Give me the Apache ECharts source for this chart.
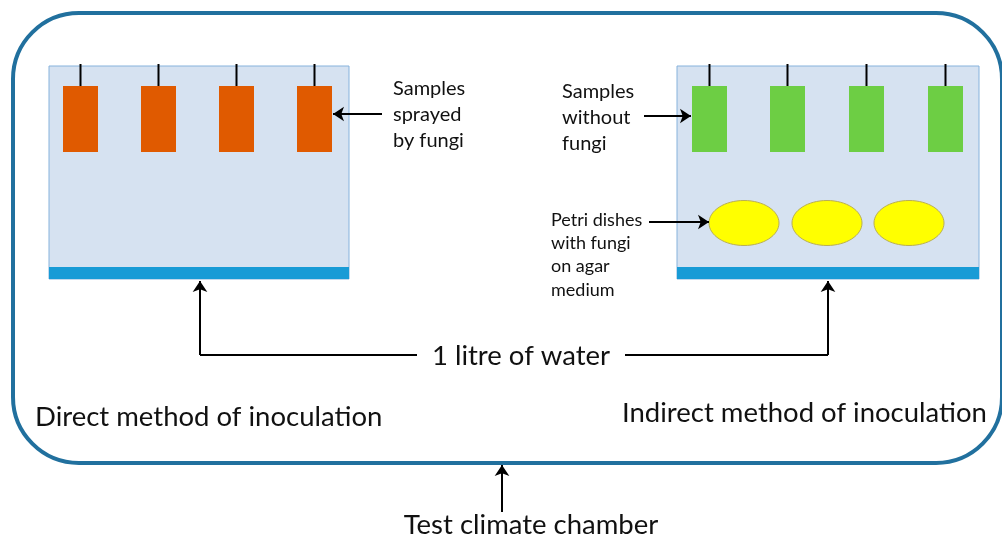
<!DOCTYPE html>
<html>
<head>
<meta charset="utf-8">
<title>Inoculation methods</title>
<script src="https://cdn.jsdelivr.net/npm/echarts@6/dist/echarts.min.js"></script>
<style>
  html, body { margin: 0; padding: 0; background: #fff; }
  #main { width: 1002px; height: 540px; }
</style>
</head>
<body>
<div id="main"></div>
<script>
// diagram data, in picture units (x right, y down)
const chamber = [[13, 13, 1002, 463]];
const tanks = [[49, 66, 349, 279, 267], [677, 66, 979, 279, 267]];
const sprayedSamples = [80.5, 158.5, 236.5, 314.5];
const cleanSamples = [709.5, 787.5, 866.5, 945.5];
const sampleSpan = [86, 152];
const hookTop = 64;
const petriDishes = [744, 827, 909];
const petriRow = 223;

const plainLines = [
    [[417, 355], [200, 355]],
    [[625, 355], [828, 355]]
];
const arrowLines = [
    [[382, 114], [333, 114]],
    [[644, 116], [691, 116]],
    [[649, 222], [709, 222]],
    [[200, 355], [200, 281]],
    [[828, 355], [828, 281]],
    [[502, 512], [502, 465]]
];

const smallLabels = ['Samples\nsprayed\nby fungi', 'Samples\nwithout\nfungi'];
const smallLabelPos = [[393, 114.5], [562, 118]];
const petriLabel = ['Petri dishes\nwith fungi\non agar\nmedium'];
const petriLabelPos = [[551, 255]];
const bigLabels = ['1 litre of water', 'Direct method of inoculation', 'Indirect method of inoculation', 'Test climate chamber'];
const bigLabelPos = [[521, 356], [35, 417], [622, 413], [531, 525]];
const bigLabelAlign = ['center', 'left', 'left', 'center'];

const FONT = 'Lato, "Open Sans", sans-serif';

var chart = echarts.init(document.getElementById('main'));

function pt(api, x, y) {
    return api.coord([x, y]);
}

var option = {
    animation: false,
    grid: { left: 0, right: 0, top: 0, bottom: 0 },
    xAxis: { type: 'value', min: 0, max: 1002, show: false },
    yAxis: { type: 'value', min: 0, max: 540, inverse: true, show: false },
    series: [
        {
            // test climate chamber outline
            type: 'custom',
            z: 1,
            data: chamber,
            renderItem: function (params, api) {
                var a = pt(api, api.value(0), api.value(1));
                var b = pt(api, api.value(2), api.value(3));
                return {
                    type: 'rect',
                    shape: { x: a[0], y: a[1], width: b[0] - a[0], height: b[1] - a[1], r: 66 },
                    style: { fill: 'none', stroke: '#21709e', lineWidth: 4 }
                };
            }
        },
        {
            // tanks with water at the bottom
            type: 'custom',
            z: 2,
            data: tanks,
            renderItem: function (params, api) {
                var a = pt(api, api.value(0), api.value(1));
                var b = pt(api, api.value(2), api.value(3));
                var w = pt(api, api.value(0), api.value(4));
                return {
                    type: 'group',
                    children: [
                        {
                            type: 'rect',
                            shape: { x: a[0], y: a[1], width: b[0] - a[0], height: b[1] - a[1] },
                            style: { fill: '#d6e2f1', stroke: '#86b2dc', lineWidth: 1 }
                        },
                        {
                            type: 'rect',
                            shape: { x: a[0], y: w[1], width: b[0] - a[0], height: b[1] - w[1] },
                            style: { fill: '#189bd6' }
                        }
                    ]
                };
            }
        },
        {
            type: 'custom',
            z: 3,
            data: sprayedSamples,
            renderItem: function (params, api) {
                return sample(api, '#e05a00');
            }
        },
        {
            type: 'custom',
            z: 3,
            data: cleanSamples,
            renderItem: function (params, api) {
                return sample(api, '#6dce44');
            }
        },
        {
            // petri dishes
            type: 'custom',
            z: 3,
            data: petriDishes,
            renderItem: function (params, api) {
                var c = pt(api, api.value(0), petriRow);
                return {
                    type: 'ellipse',
                    shape: { cx: c[0], cy: c[1], rx: 35, ry: 22.5 },
                    style: { fill: '#ffff00', stroke: '#b9ae55', lineWidth: 1 }
                };
            }
        },
        {
            type: 'lines',
            coordinateSystem: 'cartesian2d',
            z: 4,
            symbol: 'none',
            lineStyle: { color: '#000', width: 2, opacity: 1 },
            data: plainLines.map(function (c) { return { coords: c }; })
        },
        {
            type: 'lines',
            coordinateSystem: 'cartesian2d',
            z: 4,
            symbol: ['none', 'arrow'],
            symbolSize: 11,
            lineStyle: { color: '#000', width: 2, opacity: 1 },
            itemStyle: { color: '#000' },
            data: arrowLines.map(function (c) { return { coords: c }; })
        },
        textSeries(smallLabels, smallLabelPos, 20, 26, null),
        textSeries(petriLabel, petriLabelPos, 18, 23.3, null),
        textSeries(bigLabels, bigLabelPos, 27.5, 32, bigLabelAlign)
    ]
};

function sample(api, color) {
    var top = pt(api, api.value(0), sampleSpan[0]);
    var bot = pt(api, api.value(0), sampleSpan[1]);
    var hook = pt(api, api.value(0), hookTop);
    return {
        type: 'group',
        children: [
            {
                type: 'line',
                shape: { x1: hook[0], y1: hook[1], x2: top[0], y2: top[1] },
                style: { stroke: '#000', lineWidth: 2 }
            },
            {
                type: 'rect',
                shape: { x: top[0] - 17.5, y: top[1], width: 35, height: bot[1] - top[1] },
                style: { fill: color }
            }
        ]
    };
}

function textSeries(texts, positions, size, lh, aligns) {
    return {
        type: 'custom',
        z: 5,
        data: positions,
        renderItem: function (params, api) {
            var p = pt(api, api.value(0), api.value(1));
            return {
                type: 'text',
                x: p[0],
                y: p[1],
                style: {
                    text: texts[params.dataIndex],
                    fill: '#111',
                    font: size + 'px ' + FONT,
                    lineHeight: lh,
                    align: aligns ? aligns[params.dataIndex] : 'left',
                    verticalAlign: 'middle'
                }
            };
        }
    };
}

chart.setOption(option);
</script>
</body>
</html>
